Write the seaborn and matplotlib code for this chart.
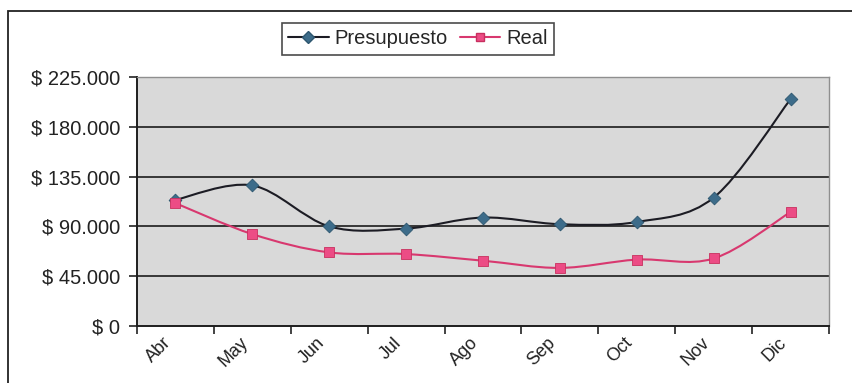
import numpy as np
import pandas as pd
import matplotlib
matplotlib.use("Agg")
import matplotlib.pyplot as plt
import matplotlib.transforms as mtransforms
import seaborn as sns
from matplotlib.path import Path
from matplotlib.patches import PathPatch, Rectangle
from matplotlib.lines import Line2D
from matplotlib.ticker import FuncFormatter, FixedLocator

# Monthly figures
meses = ["Abr", "May", "Jun", "Jul", "Ago", "Sep", "Oct", "Nov", "Dic"]
presupuesto = [114000, 127000, 90000, 88000, 98000, 92000, 94000, 116000, 205000]
real = [111000, 83000, 66500, 65000, 59000, 52500, 60000, 61000, 103000]
y_ticks = [0, 45000, 90000, 135000, 180000, 225000]

sns.set_theme(style="white")
plt.rcParams["font.family"] = ["Liberation Sans", "DejaVu Sans"]

df = pd.DataFrame({
    "mes": np.tile(np.arange(len(meses)), 2),
    "valor": presupuesto + real,
    "serie": ["Presupuesto"] * len(meses) + ["Real"] * len(meses),
})

COL_P_LINE = "#1c1c24"
COL_P_MARK = "#3d6c8a"
COL_R_LINE = "#d8386f"
COL_R_MARK = "#ec4c85"


def smooth_path(xs, ys):
    """Cubic Bezier path through the points (Catmull-Rom style tangents)."""
    pts = np.column_stack([xs, ys]).astype(float)
    ext = np.vstack([pts[0], pts, pts[-1]])
    verts = [pts[0]]
    codes = [Path.MOVETO]
    for i in range(len(pts) - 1):
        p0, p1, p2, p3 = ext[i], ext[i + 1], ext[i + 2], ext[i + 3]
        c1 = p1 + (p2 - p0) / 6.0
        c2 = p2 - (p3 - p1) / 6.0
        verts += [c1, c2, p2]
        codes += [Path.CURVE4] * 3
    return Path(verts, codes)


fig = plt.figure(figsize=(8.52, 3.83), dpi=100)
fig.patch.set_facecolor("white")
ax = fig.add_axes([137 / 852, 1 - 326 / 383, (829 - 137) / 852, (326 - 77) / 383])
ax.set_facecolor("#d9d9d9")

# gridlines
for t in y_ticks[1:-1]:
    ax.axhline(t, color="#2a2a2a", lw=1.3, zorder=1)

# smoothed series lines
x = np.arange(len(meses))
ax.add_patch(PathPatch(smooth_path(x, presupuesto), fill=False,
                       edgecolor=COL_P_LINE, lw=1.5, zorder=3))
ax.add_patch(PathPatch(smooth_path(x, real), fill=False,
                       edgecolor=COL_R_LINE, lw=1.5, zorder=3))

# markers
sns.scatterplot(data=df[df.serie == "Presupuesto"], x="mes", y="valor", ax=ax,
                marker="D", s=42, color=COL_P_MARK, edgecolor="#2d566f",
                linewidth=0.6, zorder=4, legend=False)
sns.scatterplot(data=df[df.serie == "Real"], x="mes", y="valor", ax=ax,
                marker="s", s=50, color=COL_R_MARK, edgecolor="#c8305f",
                linewidth=0.6, zorder=4, legend=False)

ax.set_xlim(-0.5, len(meses) - 0.5)
ax.set_ylim(0, 225000)
ax.set_xlabel("")
ax.set_ylabel("")

# x axis: labels at category centres, tick marks at boundaries
ax.xaxis.set_major_locator(FixedLocator(x))
ax.set_xticklabels(meses, rotation=45, ha="right", rotation_mode="anchor",
                   fontsize=13, color="#222222")
ax.xaxis.set_minor_locator(FixedLocator(np.arange(len(meses) + 1) - 0.5))
ax.tick_params(axis="x", which="major", length=0, pad=8)
ax.tick_params(axis="x", which="minor", length=6, width=1.2, color="#222222",
               direction="out", bottom=True)
shift = mtransforms.ScaledTranslation(-0.13, 0.03, fig.dpi_scale_trans)
for lbl in ax.get_xticklabels():
    lbl.set_transform(lbl.get_transform() + shift)

ax.set_yticks(y_ticks)
ax.yaxis.set_major_formatter(
    FuncFormatter(lambda v, _: "$ " + f"{int(v):,}".replace(",", ".")))
ax.tick_params(axis="y", length=6, width=1.2, color="#222222", direction="out",
               labelsize=14.5, labelcolor="#222222", pad=6, left=True)

for side in ("left", "bottom"):
    ax.spines[side].set_color("#1e1e1e")
    ax.spines[side].set_linewidth(1.4)
for side in ("top", "right"):
    ax.spines[side].set_color("#8f8f8f")
    ax.spines[side].set_linewidth(1.0)

# legend
handles = [
    Line2D([], [], color=COL_P_LINE, lw=1.5, marker="D", markersize=6,
           markerfacecolor=COL_P_MARK, markeredgecolor="#2d566f"),
    Line2D([], [], color=COL_R_LINE, lw=1.5, marker="s", markersize=6,
           markerfacecolor=COL_R_MARK, markeredgecolor="#c8305f"),
]
leg = fig.legend(handles, ["Presupuesto", "Real"], loc="center",
                 bbox_to_anchor=(418 / 852, 1 - 39 / 383), ncol=2,
                 fontsize=14.5, frameon=True, fancybox=False, shadow=False,
                 handlelength=2.0, handletextpad=0.3, columnspacing=0.6,
                 borderpad=0.3, borderaxespad=0)
leg.get_frame().set_edgecolor("#1e1e1e")
leg.get_frame().set_linewidth(1.2)

# chart area border
fig.add_artist(Rectangle((8 / 852, -0.1), 1.1, 1 - 11 / 383 + 0.1,
                         transform=fig.transFigure, fill=False,
                         edgecolor="#222222", lw=1.3))

fig.savefig("out.png", dpi=100, facecolor="white")
